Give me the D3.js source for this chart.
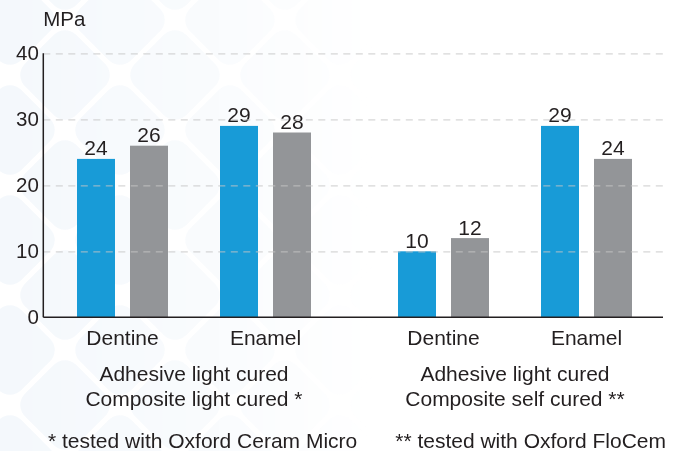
<!DOCTYPE html>
<html>
<head>
<meta charset="utf-8">
<script src="https://cdn.jsdelivr.net/npm/d3@7"></script>
<style>
  html, body { margin: 0; padding: 0; background: #ffffff; }
  svg { display: block; font-family: "Liberation Sans", Arial, sans-serif; }
</style>
</head>
<body>
<svg id="chart" width="680" height="451"></svg>
<script>
// ---- data ----
const groups = ["g1", "g2"];
const groupLine1 = ["Adhesive light cured", "Adhesive light cured"];
const groupLine2 = ["Composite light cured *", "Composite self cured **"];
const footnotes = ["* tested with Oxford Ceram Micro", "** tested with Oxford FloCem"];
const categories = ["Dentine", "Enamel"];
const series = ["blue", "gray"];
const blueValues = [24, 29, 10, 29];   // g1 Dentine, g1 Enamel, g2 Dentine, g2 Enamel
const grayValues = [26, 28, 12, 24];
const yTicks = [0, 10, 20, 30, 40];
const yUnit = "MPa";

(function () {
const colors = { blue: "#189bd7", gray: "#939598" };
const textColor = "#231f20";
const FONT = "Liberation Sans, Arial, sans-serif";

const svg = d3.select("#chart");
const W = 680, H = 451;
const mLeft = 43.3, mRight = 663, mTop = 53.3, mBottom = 317.3;

// ---- background decorative pattern ----
const defs = svg.append("defs");
const grad = defs.append("linearGradient").attr("id", "fade").attr("x1", 0).attr("x2", 1).attr("y1", 0).attr("y2", 0);
grad.append("stop").attr("offset", 0).attr("stop-color", "#fff").attr("stop-opacity", 1);
grad.append("stop").attr("offset", 0.3).attr("stop-color", "#fff").attr("stop-opacity", 0.55);
grad.append("stop").attr("offset", 0.55).attr("stop-color", "#fff").attr("stop-opacity", 0);
const mask = defs.append("mask").attr("id", "bgmask");
mask.append("rect").attr("width", W).attr("height", H).attr("fill", "url(#fade)");
const bg = svg.append("g").attr("mask", "url(#bgmask)");
const cell = 110;
for (let i = -1; i < 6; i++) {
  for (let j = -1; j < 11; j++) {
    const cx = i * cell + (j % 2 ? cell / 2 : 0) + 10;
    const cy = j * cell / 2 + 20;
    bg.append("rect")
      .attr("x", -cell * 0.33).attr("y", -cell * 0.33)
      .attr("width", cell * 0.66).attr("height", cell * 0.66)
      .attr("rx", 16)
      .attr("transform", `translate(${cx},${cy}) rotate(45)`)
      .attr("fill", "#f4f8fc");
  }
}

// ---- scales ----
const y = d3.scaleLinear().domain([0, 40]).range([mBottom, mTop]);
const x0 = d3.scaleBand().domain(groups).range([33.5, 675.5]);
const x1 = d3.scaleBand().domain(categories).range([-143, 143]);
const x2 = d3.scaleBand().domain(series).range([-45.5, 45.5]).paddingInner(15 / 53);

const rows = [];
groups.forEach((g, gi) => categories.forEach((c, ci) => {
  const k = gi * categories.length + ci;
  rows.push({ g, c, blue: blueValues[k], gray: grayValues[k] });
}));
const catCenter = d => x0(d.g) + x0.bandwidth() / 2 + x1(d.c) + x1.bandwidth() / 2;

// ---- bars ----
const bars = svg.append("g");
rows.forEach(d => {
  series.forEach(s => {
    const bx = catCenter(d) + x2(s);
    bars.append("rect")
      .attr("x", bx).attr("y", y(d[s]))
      .attr("width", x2.bandwidth()).attr("height", y(0) - y(d[s]))
      .attr("fill", colors[s]);
    bars.append("text")
      .attr("x", bx + x2.bandwidth() / 2).attr("y", y(d[s]) - 3.5)
      .attr("text-anchor", "middle").attr("font-size", 21).attr("fill", textColor)
      .text(d[s]);
  });
});

// ---- axis labels and gridlines (drawn over bars) ----
const yAxisG = svg.append("g").attr("transform", `translate(${mLeft},0)`)
  .call(d3.axisLeft(y).tickValues(yTicks).tickSize(0).tickPadding(4.5));
yAxisG.select(".domain").remove();
yAxisG.selectAll("text").attr("font-size", 20.5).attr("fill", textColor).attr("font-family", FONT);

const grid = svg.append("g").attr("transform", `translate(${mLeft},0)`)
  .call(d3.axisRight(y).tickValues(yTicks.filter(t => t > 0)).tickSize(mRight - mLeft).tickFormat(""));
grid.select(".domain").remove();
grid.selectAll("line").attr("stroke", "#c4c4c4").attr("stroke-opacity", 0.7)
  .attr("stroke-width", 1.2).attr("stroke-dasharray", "7,5.5");

// axis lines
svg.append("line").attr("x1", mLeft).attr("x2", mLeft).attr("y1", y(40)).attr("y2", y(0))
  .attr("stroke", textColor).attr("stroke-width", 1.5);
svg.append("line").attr("x1", mLeft).attr("x2", mRight).attr("y1", y(0)).attr("y2", y(0))
  .attr("stroke", textColor).attr("stroke-width", 1.5);

// unit label
svg.append("text").attr("x", mLeft).attr("y", 26).attr("font-size", 20.5).attr("fill", textColor).text(yUnit);

// category labels
rows.forEach(d => {
  svg.append("text").attr("x", catCenter(d)).attr("y", 345)
    .attr("text-anchor", "middle").attr("font-size", 21).attr("fill", textColor).text(d.c);
});

// group labels
groups.forEach((g, gi) => {
  const gx = x0(g) + x0.bandwidth() / 2;
  svg.append("text").attr("x", gx).attr("y", 381)
    .attr("text-anchor", "middle").attr("font-size", 21).attr("fill", textColor).text(groupLine1[gi]);
  svg.append("text").attr("x", gx).attr("y", 406)
    .attr("text-anchor", "middle").attr("font-size", 21).attr("fill", textColor).text(groupLine2[gi]);
});

// footnotes
svg.append("text").attr("x", 48).attr("y", 447.5).attr("font-size", 21).attr("fill", textColor).text(footnotes[0]);
svg.append("text").attr("x", 666).attr("y", 447.5).attr("text-anchor", "end").attr("font-size", 21).attr("fill", textColor).text(footnotes[1]);
})();
</script>
</body>
</html>
